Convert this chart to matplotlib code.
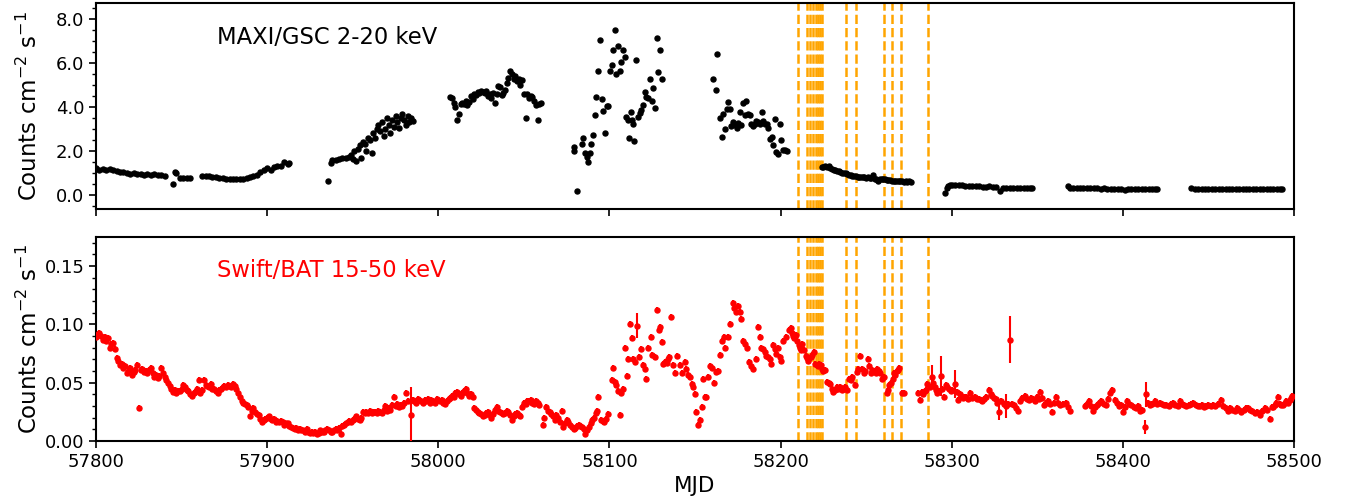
import numpy as np
import matplotlib
matplotlib.use("Agg")
import matplotlib.pyplot as plt
from matplotlib.ticker import AutoMinorLocator, FormatStrFormatter, MultipleLocator

# ---- MAXI/GSC 2-20 keV (MJD, counts cm^-2 s^-1) ----
maxi_mjd = [
    57800, 57802, 57804, 57806, 57808, 57810, 57812, 57814, 57816, 57818, 57820, 57822,
    57824, 57826, 57828, 57830, 57832, 57834, 57836, 57838, 57840,
    57845, 57846, 57847, 57849, 57851, 57853, 57855,
    57862, 57864, 57866, 57868, 57870, 57872, 57874, 57876, 57878, 57880, 57882, 57884,
    57886, 57888, 57890, 57892, 57894, 57896, 57898, 57900, 57902, 57904, 57906, 57908,
    57910, 57912, 57913,
    57935.5, 57937, 57938, 57940, 57942, 57944, 57946, 57948, 57949, 57950, 57951, 57952,
    57953, 57954, 57955, 57956, 57957, 57958, 57959, 57960, 57961, 57962, 57963, 57964,
    57965, 57966, 57967, 57968, 57969, 57970, 57971, 57972, 57973, 57974, 57975, 57976,
    57977, 57978, 57979, 57980, 57981, 57982, 57983, 57984, 57985,
    58007, 58008, 58009, 58010, 58011, 58012, 58013, 58014, 58015, 58016, 58017, 58018,
    58019, 58020, 58021, 58022, 58023, 58024, 58025, 58026, 58027, 58028, 58029, 58030,
    58031, 58032, 58033, 58034, 58035, 58036, 58037, 58038, 58039, 58040, 58041, 58042,
    58043, 58044, 58045, 58046, 58047, 58048, 58049, 58050, 58051, 58052, 58053, 58054,
    58055, 58056, 58057, 58058, 58059, 58060,
    58079, 58079.5, 58081.3, 58083.7, 58084.7, 58086, 58086.6, 58087.3, 58088.5, 58089.5,
    58090.5, 58091.5, 58092.4, 58093.4, 58094.4, 58095.4, 58096.3, 58097.3, 58098.3, 58099.2,
    58100.2, 58101.2, 58102.2, 58103.1, 58104.1, 58105.1, 58106, 58107, 58108, 58109,
    58109.9, 58110.9, 58111.5, 58112.8, 58113.3, 58113.8, 58114.4, 58115.8, 58116.7, 58117.7,
    58118.7, 58119.7, 58120.7, 58121.6, 58122.6, 58123.6, 58124.6, 58125.5, 58126.5, 58127.5,
    58128.5, 58129.5, 58130.5,
    58160.6, 58162.2, 58163.1, 58164.5, 58165.5, 58166.4, 58167.4, 58168.4, 58169.4, 58170.4,
    58171.3, 58172.3, 58173.3, 58174.3, 58175.2, 58176.1, 58177.1, 58178.1, 58179.1, 58180,
    58181, 58182, 58183, 58184, 58185, 58185.9, 58186.9, 58187.9, 58188.9, 58189.8,
    58190.8, 58191.8, 58192.8, 58193.8, 58194.7, 58195.6, 58196.6, 58197.6, 58198.5, 58199.5,
    58200.5, 58201.5, 58202.5, 58203.5,
    58224, 58225, 58226, 58227, 58228, 58229, 58230, 58231, 58232, 58233, 58234, 58235,
    58236, 58237, 58238, 58239, 58240, 58241, 58242, 58243, 58244, 58245, 58246, 58247,
    58248, 58249, 58250, 58251, 58252, 58253, 58254, 58255, 58256, 58257, 58258, 58259,
    58260, 58261, 58262, 58263, 58264, 58265, 58266, 58267, 58268, 58269, 58270, 58271,
    58272, 58273, 58274, 58275, 58276,
    58296, 58297, 58298, 58299, 58300, 58302, 58304, 58306, 58308, 58310, 58312, 58314,
    58316, 58318, 58320, 58322, 58324, 58326, 58328, 58330, 58332, 58334, 58336, 58338,
    58340, 58342, 58344, 58346, 58347,
    58368, 58369, 58371, 58373, 58375, 58377, 58379, 58381, 58383, 58385, 58387, 58389,
    58391, 58393, 58395, 58397, 58399, 58401, 58403, 58405, 58407, 58409, 58411, 58413,
    58415, 58417, 58419, 58420,
    58440, 58442, 58444, 58446, 58448, 58450, 58452, 58454, 58456, 58458, 58460, 58462,
    58464, 58466, 58468, 58470, 58472, 58474, 58476, 58478, 58480, 58482, 58484, 58486,
    58488, 58490, 58492, 58493,
]
maxi_rate = [
    1.20, 1.15, 1.17, 1.12, 1.16, 1.13, 1.10, 1.05, 1.02, 0.98, 0.95, 0.97,
    0.93, 0.95, 0.92, 0.96, 0.90, 0.94, 0.91, 0.88, 0.87,
    0.47, 1.05, 0.98, 0.78, 0.75, 0.77, 0.76,
    0.86, 0.84, 0.85, 0.80, 0.82, 0.78, 0.76, 0.74, 0.73, 0.72, 0.70, 0.73,
    0.70, 0.76, 0.80, 0.85, 0.92, 1.05, 1.12, 1.20, 1.15, 1.25, 1.30, 1.33,
    1.50, 1.40, 1.45,
    0.65, 1.45, 1.60, 1.58, 1.65, 1.70, 1.68, 1.72, 1.82, 1.65, 2.00, 1.55,
    2.10, 2.25, 1.70, 2.40, 2.30, 2.00, 2.60, 2.50, 1.90, 2.80, 2.60, 3.00,
    3.20, 2.90, 3.30, 2.70, 3.00, 3.50, 3.20, 2.80, 3.40, 3.10, 3.60, 3.30,
    3.05, 3.50, 3.70, 3.40, 3.20, 3.60, 3.30, 3.50, 3.35,
    4.45, 4.42, 4.20, 4.00, 3.40, 3.70, 4.15, 4.20, 4.15, 4.30, 4.10, 4.25,
    4.50, 4.35, 4.60, 4.55, 4.70, 4.65, 4.75, 4.70, 4.65, 4.72, 4.50, 4.60,
    4.40, 4.65, 4.20, 4.60, 4.95, 4.90, 4.55, 4.65, 4.80, 5.10, 5.35, 5.65,
    5.50, 5.30, 5.40, 5.20, 5.30, 5.00, 5.25, 4.60, 3.50, 4.60, 4.40, 4.50,
    4.45, 4.30, 4.10, 3.40, 4.15, 4.20,
    2.18, 2.00, 0.15, 2.33, 2.58, 1.90, 1.72, 1.49, 1.90, 2.33,
    2.72, 3.62, 4.46, 5.64, 7.08, 4.35, 3.80, 2.84, 4.03, 4.03,
    5.67, 5.90, 6.62, 7.53, 5.52, 6.77, 5.67, 6.05, 6.62, 6.28,
    3.54, 3.42, 2.60, 3.77, 3.40, 3.24, 2.45, 6.16, 3.54, 3.72,
    3.88, 4.10, 4.68, 4.48, 4.41, 5.30, 4.28, 4.88, 3.97, 7.17,
    5.60, 6.62, 5.26,
    5.30, 4.76, 6.44, 3.51, 2.63, 3.67, 3.01, 3.90, 4.23, 3.90,
    3.12, 3.32, 3.17, 3.06, 3.27, 3.77, 3.17, 4.19, 3.62, 4.30,
    3.70, 3.62, 3.21, 3.12, 3.24, 3.36, 3.32, 3.24, 3.77, 3.36,
    3.21, 3.21, 3.06, 2.55, 2.63, 2.25, 3.47, 1.95, 1.87, 3.21,
    2.51, 2.02, 2.02, 2.00,
    1.25, 1.28, 1.30, 1.27, 1.30, 1.22, 1.18, 1.15, 1.12, 1.10, 1.08, 1.06,
    1.00, 0.98, 1.00, 0.95, 0.92, 0.88, 0.86, 0.85, 0.84, 0.82, 0.83, 0.80,
    0.79, 0.80, 0.78, 0.79, 0.76, 0.77, 0.90, 0.74, 0.70, 0.62, 0.72, 0.74,
    0.72, 0.70, 0.68, 0.66, 0.67, 0.65, 0.65, 0.63, 0.64, 0.62, 0.61, 0.62,
    0.60, 0.61, 0.60, 0.61, 0.60,
    0.08, 0.33, 0.40, 0.44, 0.46, 0.44, 0.45, 0.43, 0.42, 0.42, 0.40, 0.40,
    0.38, 0.37, 0.36, 0.38, 0.35, 0.36, 0.18, 0.33, 0.33, 0.32, 0.31, 0.32,
    0.30, 0.31, 0.30, 0.31, 0.30,
    0.40, 0.33, 0.31, 0.30, 0.30, 0.29, 0.30, 0.29, 0.30, 0.29, 0.28, 0.29,
    0.28, 0.27, 0.28, 0.26, 0.28, 0.20, 0.27, 0.28, 0.27, 0.28, 0.27, 0.26,
    0.27, 0.26, 0.27, 0.26,
    0.30, 0.27, 0.26, 0.27, 0.26, 0.25, 0.27, 0.26, 0.27, 0.25, 0.26, 0.27,
    0.25, 0.26, 0.25, 0.27, 0.26, 0.25, 0.26, 0.25, 0.26, 0.25, 0.26, 0.25,
    0.26, 0.25, 0.26, 0.25,
]
maxi_err = 0.06

# ---- Swift/BAT 15-50 keV ----
bat_mjd = [
    57800, 57801, 57802, 57803, 57804, 57805, 57806, 57807, 57808, 57809, 57810, 57811,
    57812, 57813, 57814, 57815, 57816, 57817, 57818, 57819, 57820, 57821, 57822, 57823,
    57824, 57825.3, 57826, 57827, 57828, 57829, 57830, 57831, 57832, 57833, 57834, 57835,
    57836, 57837, 57838, 57839, 57840, 57841, 57842, 57843, 57844, 57845, 57846, 57847,
    57848, 57849, 57850, 57851, 57852, 57853, 57854, 57855, 57856, 57857, 57858, 57859,
    57860, 57861, 57862, 57863, 57864, 57865, 57866, 57867, 57868, 57869, 57870, 57871,
    57872, 57873, 57874, 57875, 57876, 57877, 57878, 57879, 57880, 57881, 57882, 57883,
    57884, 57885, 57886, 57887, 57888, 57889, 57890, 57891, 57892, 57893, 57894, 57895,
    57896, 57897, 57898, 57899, 57900, 57901, 57902, 57903, 57904, 57905, 57906, 57907,
    57908, 57909, 57910, 57911, 57912, 57913, 57914, 57915, 57916, 57917, 57918, 57919,
    57920, 57921, 57922, 57923, 57924, 57925, 57926, 57927, 57928, 57929, 57930, 57931,
    57932, 57933, 57934, 57935, 57936, 57937, 57938, 57939, 57940, 57941, 57942, 57943,
    57944, 57945, 57946, 57947, 57948, 57949, 57950, 57951, 57952, 57953, 57954, 57955,
    57956, 57957, 57958, 57959, 57960, 57961, 57962, 57963, 57964, 57965, 57966, 57967,
    57968, 57969, 57970, 57971, 57972, 57973, 57974, 57975, 57976, 57977, 57978, 57979,
    57980, 57981, 57982, 57985, 57986, 57987, 57988, 57989, 57990, 57991, 57992, 57993,
    57994, 57995, 57996, 57997, 57998, 57999, 58000, 58001, 58002, 58003, 58004, 58005,
    58006, 58007, 58008, 58009, 58010, 58011, 58012, 58013, 58014, 58015, 58016, 58017,
    58018, 58019, 58020, 58021, 58022, 58023, 58024, 58025, 58026, 58027, 58028, 58029,
    58030, 58031, 58032, 58033, 58034, 58035, 58036, 58037, 58038, 58039, 58040, 58041,
    58042, 58043, 58044, 58045, 58046, 58047, 58048, 58049, 58050, 58051, 58052, 58053,
    58054, 58055, 58056, 58057, 58058, 58059, 58061, 58062, 58063, 58064, 58065, 58066,
    58067, 58068, 58069, 58070, 58071, 58072, 58073, 58074, 58075, 58076, 58077, 58078,
    58079, 58080, 58081, 58082, 58083, 58084, 58085, 58086, 58087, 58088, 58089, 58090,
    58091, 58092, 58093, 58093.5, 58095, 58096, 58097, 58098, 58099,
    58101.2, 58102.2, 58103.1, 58104, 58105, 58106, 58107, 58108, 58109, 58110,
    58111, 58111.9, 58112.9, 58113.9, 58114.9, 58117.5, 58118.7, 58119.7, 58120.5,
    58121.6, 58122.8, 58124, 58125, 58126.5, 58127.7, 58128.9, 58129.8, 58130.6, 58131.4,
    58132.5, 58133.5, 58134.3, 58135, 58135.9, 58137, 58138.2, 58139.5, 58141.1, 58142.5,
    58144, 58145, 58146, 58147, 58148, 58149, 58149.9, 58150.8, 58151.8, 58152.8,
    58153.8, 58154.7, 58155.7, 58156.7, 58157.7, 58158.8, 58160.2, 58161.2, 58162.5, 58163.5,
    58164.5, 58165.8, 58166.8, 58167.8, 58169.3, 58170.6, 58171.9, 58172.7, 58173.8, 58175.1,
    58176.2, 58177.1, 58178.1, 58179.1, 58180.1, 58181.6, 58183, 58184, 58185.5, 58186.9,
    58187.8, 58188.8, 58189.8, 58190.8, 58191.7, 58192.7, 58193.7, 58194.6, 58195.6, 58196.6,
    58197.6, 58198.6, 58199.5, 58200.5, 58201.5, 58203.4, 58205,
    58205.8, 58206.6, 58207.4, 58208.1, 58208.8, 58209.7, 58210.5, 58211.3, 58212, 58212.7,
    58213.6, 58214.6, 58215.3, 58216, 58216.8, 58217.5, 58218.5, 58219.5, 58220.4, 58221.1,
    58221.8, 58222.6, 58223.4, 58224.2, 58224.9, 58225.8, 58227.3, 58228, 58228.8, 58229.8,
    58230.8, 58231.7, 58232.7, 58233.7, 58234.7, 58235.6, 58236.6, 58237.6, 58238.6, 58239.9,
    58240.9, 58241.9, 58243.2, 58244.4, 58245.3, 58246.3, 58247.7, 58248.6, 58249.6, 58251,
    58251.8, 58252.6, 58253.5, 58254.5, 58255.5, 58256.5, 58257.3, 58258, 58259.4, 58260.7,
    58261.9, 58262.6, 58263.3, 58264.6, 58265.4, 58266.2, 58267, 58267.8, 58268.5, 58269.3,
    58271.1, 58272.4,
    58280.2, 58281.4, 58282.7, 58283.4, 58284.1, 58285, 58285.7, 58287.2, 58289.3, 58290,
    58290.8, 58291.5, 58292.5, 58294.4, 58295.4, 58296.5, 58297.5, 58298.5, 58299.5, 58300.4,
    58302.8, 58303.7, 58304.7, 58305.7, 58306.7, 58307.6, 58308.6, 58309.8, 58310.9, 58312,
    58313.4, 58314.7, 58316, 58317, 58317.9, 58319, 58320.3, 58321.8, 58322.8, 58323.8,
    58324.8, 58325.7, 58326.7, 58329, 58330.3, 58332.6, 58335, 58336.2, 58337.5, 58338.8,
    58340, 58341.3, 58342.6, 58344, 58345.2, 58346.3, 58347.5, 58348.7, 58349.9, 58350.8,
    58351.8, 58352.8, 58353.7, 58355, 58356.3, 58357.5, 58358.8, 58359.8, 58360.8, 58362.2,
    58363.5, 58365, 58366.6, 58368, 58369.3,
    58377.7, 58379, 58380.2, 58381.4, 58382.6, 58383.8, 58384.9, 58386.2, 58387.4, 58388.7,
    58390, 58391.2, 58392.3, 58393.9, 58395.2, 58396.5, 58397.8, 58399, 58400.1, 58401.2,
    58402.4, 58403.7, 58405, 58406.3, 58407.5, 58408.7, 58409.8, 58411.2, 58414.8, 58416,
    58417.3, 58418.6, 58420, 58421.5, 58423, 58424.2, 58425.4, 58426.8, 58428, 58429.3,
    58430.7, 58432, 58433.2, 58434.6, 58436, 58437.1, 58438.5, 58440, 58441, 58442.5,
    58443.8, 58444.9, 58446.2, 58447.5, 58448.8, 58450, 58451.4, 58452.7, 58454, 58455.5,
    58457.5, 58458.8, 58460.1, 58461.4, 58462.7, 58464, 58465.3, 58466.6, 58467.9, 58469.2,
    58470.5, 58471.8, 58473.1, 58474.4, 58475.7, 58477, 58478.4, 58479.9, 58481.3, 58482.8,
    58484.3, 58485.8, 58487, 58487.7, 58488.8, 58489.7, 58490.6, 58491.6, 58492.5, 58493.5,
    58494.6, 58495.5, 58496.5, 58497.6, 58498.3, 58499,
]
bat_rate = [
    0.089, 0.092, 0.093, 0.090, 0.087, 0.089, 0.086, 0.088, 0.080, 0.083, 0.084, 0.079,
    0.071, 0.069, 0.065, 0.066, 0.063, 0.064, 0.058, 0.061, 0.063, 0.057, 0.059, 0.061,
    0.065, 0.028, 0.061, 0.062, 0.059, 0.060, 0.058, 0.061, 0.063, 0.058, 0.055, 0.057,
    0.054, 0.056, 0.063, 0.058, 0.055, 0.052, 0.050, 0.047, 0.045, 0.042, 0.044, 0.041,
    0.043, 0.043, 0.045, 0.048, 0.046, 0.044, 0.043, 0.040, 0.039, 0.041, 0.042, 0.045,
    0.052, 0.041, 0.044, 0.052, 0.048, 0.047, 0.046, 0.049, 0.045, 0.045, 0.043, 0.041,
    0.044, 0.045, 0.046, 0.047, 0.046, 0.048, 0.047, 0.046, 0.049, 0.047, 0.045, 0.041,
    0.038, 0.034, 0.033, 0.032, 0.031, 0.029, 0.021, 0.026, 0.028, 0.025, 0.023, 0.022,
    0.019, 0.016, 0.018, 0.019, 0.020, 0.021, 0.019, 0.018, 0.019, 0.016, 0.017, 0.016,
    0.017, 0.016, 0.014, 0.015, 0.015, 0.013, 0.012, 0.011, 0.010, 0.011, 0.009, 0.010,
    0.009, 0.009, 0.008, 0.010, 0.008, 0.007, 0.008, 0.007, 0.008, 0.006, 0.007, 0.009,
    0.008, 0.008, 0.009, 0.010, 0.009, 0.008, 0.008, 0.009, 0.010, 0.009, 0.011, 0.006,
    0.013, 0.014, 0.015, 0.016, 0.017, 0.016, 0.018, 0.019, 0.021, 0.019, 0.018, 0.020,
    0.025, 0.024, 0.025, 0.024, 0.026, 0.024, 0.025, 0.025, 0.024, 0.026, 0.025, 0.024,
    0.027, 0.030, 0.026, 0.028, 0.027, 0.031, 0.038, 0.030, 0.032, 0.029, 0.031, 0.030,
    0.033, 0.041, 0.034, 0.035, 0.034, 0.033, 0.036, 0.035, 0.034, 0.033, 0.035, 0.034,
    0.036, 0.033, 0.035, 0.034, 0.033, 0.036, 0.035, 0.034, 0.035, 0.033, 0.032, 0.034,
    0.036, 0.037, 0.039, 0.038, 0.041, 0.042, 0.040, 0.039, 0.041, 0.043, 0.045, 0.041,
    0.039, 0.040, 0.038, 0.028, 0.027, 0.025, 0.024, 0.023, 0.021, 0.022, 0.024, 0.025,
    0.022, 0.020, 0.023, 0.027, 0.029, 0.026, 0.025, 0.024, 0.023, 0.024, 0.026, 0.025,
    0.022, 0.018, 0.021, 0.023, 0.024, 0.022, 0.021, 0.029, 0.033, 0.032, 0.034, 0.034,
    0.035, 0.033, 0.032, 0.034, 0.033, 0.031, 0.014, 0.020, 0.029, 0.026, 0.025, 0.023,
    0.021, 0.018, 0.022, 0.020, 0.016, 0.026, 0.012, 0.015, 0.018, 0.016, 0.014, 0.012,
    0.010, 0.011, 0.013, 0.014, 0.013, 0.012, 0.010, 0.006, 0.009, 0.012, 0.015, 0.018,
    0.020, 0.024, 0.026, 0.038, 0.018, 0.017, 0.016, 0.019, 0.023,
    0.052, 0.063, 0.051, 0.048, 0.043, 0.022, 0.041, 0.045, 0.080, 0.056,
    0.070, 0.100, 0.088, 0.070, 0.068, 0.072, 0.079, 0.065, 0.062,
    0.053, 0.080, 0.089, 0.074, 0.072, 0.112, 0.095, 0.098, 0.085, 0.066,
    0.068, 0.067, 0.070, 0.072, 0.106, 0.065, 0.058, 0.073, 0.065, 0.058,
    0.068, 0.062, 0.057, 0.055, 0.049, 0.046, 0.040, 0.025, 0.014, 0.018,
    0.029, 0.053, 0.038, 0.038, 0.055, 0.064, 0.063, 0.050, 0.059, 0.060,
    0.074, 0.086, 0.089, 0.080, 0.089, 0.100, 0.118, 0.114, 0.111, 0.116,
    0.111, 0.105, 0.086, 0.083, 0.080, 0.068, 0.064, 0.062, 0.070, 0.098,
    0.089, 0.080, 0.079, 0.076, 0.073, 0.072, 0.070, 0.066, 0.082, 0.079,
    0.075, 0.080, 0.072, 0.069, 0.086, 0.089, 0.095,
    0.097, 0.093, 0.090, 0.088, 0.091, 0.086, 0.082, 0.080, 0.078, 0.083,
    0.078, 0.073, 0.071, 0.069, 0.071, 0.072, 0.074, 0.076, 0.066, 0.065,
    0.064, 0.066, 0.065, 0.062, 0.060, 0.061, 0.051, 0.050, 0.049, 0.045,
    0.042, 0.044, 0.046, 0.045, 0.046, 0.044, 0.045, 0.046, 0.044, 0.053,
    0.052, 0.055, 0.048, 0.059, 0.062, 0.073, 0.062, 0.058, 0.060, 0.070,
    0.064, 0.058, 0.061, 0.060, 0.058, 0.062, 0.060, 0.058, 0.053, 0.055,
    0.041, 0.044, 0.048, 0.050, 0.053, 0.058, 0.057, 0.060, 0.061, 0.063,
    0.041, 0.041,
    0.041, 0.035, 0.042, 0.040, 0.043, 0.044, 0.049, 0.046, 0.050, 0.046,
    0.044, 0.041, 0.043, 0.045, 0.038, 0.048, 0.046, 0.045, 0.043, 0.044,
    0.042, 0.035, 0.040, 0.039, 0.037, 0.038, 0.038, 0.036, 0.041, 0.037,
    0.038, 0.036, 0.036, 0.035, 0.034, 0.036, 0.038, 0.044, 0.040, 0.039,
    0.037, 0.036, 0.033, 0.034, 0.032, 0.032, 0.032, 0.031, 0.028, 0.026,
    0.034, 0.037, 0.039, 0.036, 0.035, 0.037, 0.036, 0.034, 0.038, 0.036,
    0.042, 0.037, 0.031, 0.033, 0.034, 0.032, 0.025, 0.033, 0.038, 0.033,
    0.031, 0.032, 0.033, 0.029, 0.026,
    0.030, 0.032, 0.034, 0.030, 0.026, 0.029, 0.031, 0.033, 0.034, 0.032,
    0.031, 0.036, 0.041, 0.044, 0.035, 0.033, 0.030, 0.031, 0.025, 0.029,
    0.034, 0.032, 0.031, 0.029, 0.028, 0.030, 0.026, 0.027, 0.033, 0.031,
    0.032, 0.034, 0.032, 0.033, 0.032, 0.031, 0.031, 0.030, 0.032, 0.033,
    0.031, 0.030, 0.034, 0.032, 0.031, 0.030, 0.031, 0.032, 0.033, 0.031,
    0.030, 0.030, 0.031, 0.029, 0.030, 0.031, 0.030, 0.031, 0.030, 0.032,
    0.035, 0.030, 0.028, 0.026, 0.028, 0.027, 0.026, 0.028, 0.027, 0.025,
    0.027, 0.028, 0.028, 0.027, 0.026, 0.024, 0.025, 0.022, 0.026, 0.028,
    0.027, 0.019, 0.029, 0.029, 0.031, 0.033, 0.038, 0.032, 0.031, 0.031,
    0.033, 0.034, 0.033, 0.035, 0.037, 0.039,
]
bat_err = 0.0025

# BAT points with large error bars
bat_big_mjd = [57983.8, 58116.2, 58288.6, 58293.5, 58301.8, 58327.7, 58331.6, 58333.9, 58412.7, 58413.7]
bat_big_rate = [0.022, 0.099, 0.055, 0.056, 0.049, 0.025, 0.030, 0.087, 0.012, 0.040]
bat_big_err = [0.024, 0.011, 0.010, 0.017, 0.012, 0.007, 0.010, 0.020, 0.006, 0.011]

# epochs marked with dashed lines
obs_mjd = [58210.3, 58215.2, 58217.2, 58219.2, 58220.9, 58222.0, 58223.2, 58224.3,
           58238.2, 58244.3, 58260.4, 58265.3, 58270.3, 58286.3]

plt.rcParams['font.family'] = ['DejaVu Sans']

fig = plt.figure(figsize=(13.51, 5.03), dpi=100)
ax1 = fig.add_axes([0.0711, 0.5845, 0.8867, 0.4095])
ax2 = fig.add_axes([0.0711, 0.1233, 0.8867, 0.4056], sharex=ax1)

ax1.errorbar(maxi_mjd, maxi_rate, yerr=maxi_err, fmt='o', color='k', ms=3.6,
             elinewidth=1.2, capsize=0, zorder=3)
ax2.errorbar(bat_mjd, bat_rate, yerr=bat_err, fmt='o', color='red', ms=3.6,
             elinewidth=1.5, capsize=0, zorder=3)
ax2.errorbar(bat_big_mjd, bat_big_rate, yerr=bat_big_err, fmt='o', color='red', ms=3.6,
             elinewidth=1.5, capsize=0, zorder=3)

for ax in (ax1, ax2):
    for t in obs_mjd:
        ax.axvline(t, color='orange', ls='--', lw=1.8, zorder=2)
    for s in ax.spines.values():
        s.set_linewidth(1.5)
    ax.tick_params(which='major', labelsize=13, width=1.2, length=5)
    ax.tick_params(which='minor', width=1.0, length=3)
    ax.set_ylabel(r'Counts cm$^{-2}$ s$^{-1}$', fontsize=16.5)
    ax.yaxis.set_label_coords(-0.045, 0.5)

ax1.set_xlim(57800, 58500)
ax1.xaxis.set_major_locator(MultipleLocator(100))
ax1.set_ylim(-0.65, 8.75)
ax1.yaxis.set_major_locator(MultipleLocator(2.0))
ax1.yaxis.set_minor_locator(AutoMinorLocator(4))
ax1.yaxis.set_major_formatter(FormatStrFormatter('%.1f'))
ax1.tick_params(labelbottom=False)

ax2.set_ylim(0, 0.175)
ax2.yaxis.set_major_locator(MultipleLocator(0.05))
ax2.yaxis.set_minor_locator(AutoMinorLocator(5))
ax2.yaxis.set_major_formatter(FormatStrFormatter('%.2f'))
ax2.set_xlabel('MJD', fontsize=15.5)

ax1.text(0.101, 0.835, 'MAXI/GSC 2-20 keV', transform=ax1.transAxes,
         fontsize=16.3, va='center', ha='left', color='k')
ax2.text(0.101, 0.838, 'Swift/BAT 15-50 keV', transform=ax2.transAxes,
         fontsize=16.3, va='center', ha='left', color='red')

fig.savefig('out.png', dpi=100)
